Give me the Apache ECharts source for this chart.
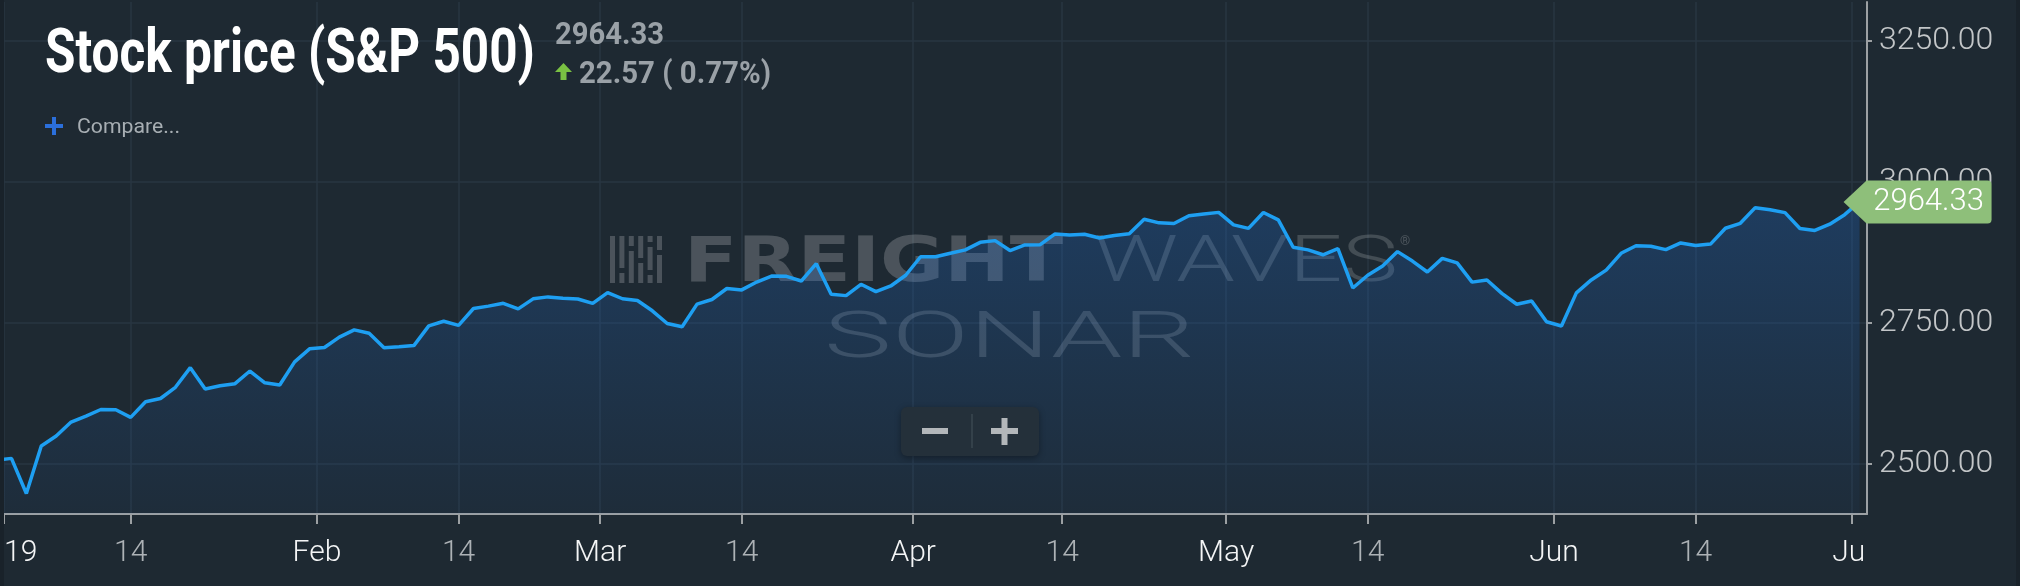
<!DOCTYPE html>
<html>
<head>
<meta charset="utf-8">
<title>Stock price (S&P 500)</title>
<script src="https://cdn.jsdelivr.net/npm/echarts@6/dist/echarts.min.js"></script>
<style>
  html, body { margin: 0; padding: 0; background: #1e2932; }
  #main { width: 2020px; height: 586px; }
</style>
</head>
<body>
<div id="main"></div>
<script>
// daily closes, S&P 500 (trading days only, so the x axis is ordinal)
const dates = [
    '2018-12-31',
    '2019-01-02', '2019-01-03', '2019-01-04', '2019-01-07', '2019-01-08', '2019-01-09', '2019-01-10', '2019-01-11',
    '2019-01-14', '2019-01-15', '2019-01-16', '2019-01-17', '2019-01-18', '2019-01-22', '2019-01-23', '2019-01-24',
    '2019-01-25', '2019-01-28', '2019-01-29', '2019-01-30', '2019-01-31',
    '2019-02-01', '2019-02-04', '2019-02-05', '2019-02-06', '2019-02-07', '2019-02-08', '2019-02-11', '2019-02-12',
    '2019-02-13', '2019-02-14', '2019-02-15', '2019-02-19', '2019-02-20', '2019-02-21', '2019-02-22', '2019-02-25',
    '2019-02-26', '2019-02-27', '2019-02-28',
    '2019-03-01', '2019-03-04', '2019-03-05', '2019-03-06', '2019-03-07', '2019-03-08', '2019-03-11', '2019-03-12',
    '2019-03-13', '2019-03-14', '2019-03-15', '2019-03-18', '2019-03-19', '2019-03-20', '2019-03-21', '2019-03-22',
    '2019-03-25', '2019-03-26', '2019-03-27', '2019-03-28', '2019-03-29',
    '2019-04-01', '2019-04-02', '2019-04-03', '2019-04-04', '2019-04-05', '2019-04-08', '2019-04-09', '2019-04-10',
    '2019-04-11', '2019-04-12', '2019-04-15', '2019-04-16', '2019-04-17', '2019-04-18', '2019-04-22', '2019-04-23',
    '2019-04-24', '2019-04-25', '2019-04-26', '2019-04-29', '2019-04-30',
    '2019-05-01', '2019-05-02', '2019-05-03', '2019-05-06', '2019-05-07', '2019-05-08', '2019-05-09', '2019-05-10',
    '2019-05-13', '2019-05-14', '2019-05-15', '2019-05-16', '2019-05-17', '2019-05-20', '2019-05-21', '2019-05-22',
    '2019-05-23', '2019-05-24', '2019-05-28', '2019-05-29', '2019-05-30', '2019-05-31',
    '2019-06-03', '2019-06-04', '2019-06-05', '2019-06-06', '2019-06-07', '2019-06-10', '2019-06-11', '2019-06-12',
    '2019-06-13', '2019-06-14', '2019-06-17', '2019-06-18', '2019-06-19', '2019-06-20', '2019-06-21', '2019-06-24',
    '2019-06-25', '2019-06-26', '2019-06-27', '2019-06-28',
    '2019-07-01'
];
const closes = [
    2506.85,
    2510.03, 2447.89, 2531.94, 2549.69, 2574.41, 2584.96, 2596.64, 2596.26,
    2582.61, 2610.30, 2616.10, 2635.96, 2670.71, 2632.90, 2638.70, 2642.33,
    2664.76, 2643.85, 2640.00, 2681.05, 2704.10,
    2706.53, 2724.87, 2737.70, 2731.61, 2706.05, 2707.88, 2709.80, 2744.73,
    2753.03, 2745.73, 2775.60, 2779.76, 2784.70, 2774.88, 2792.67, 2796.11,
    2793.90, 2792.38, 2784.49,
    2803.69, 2792.81, 2789.65, 2771.45, 2748.93, 2743.07, 2783.30, 2791.52,
    2810.92, 2808.48, 2822.48, 2832.94, 2832.57, 2824.23, 2854.88, 2800.71,
    2798.36, 2818.46, 2805.37, 2815.44, 2834.40,
    2867.19, 2867.24, 2873.40, 2879.39, 2892.74, 2895.77, 2878.20, 2888.21,
    2888.32, 2907.41, 2905.58, 2907.06, 2900.45, 2905.03, 2907.97, 2933.68,
    2927.25, 2926.17, 2939.88, 2943.03, 2945.83,
    2923.73, 2917.52, 2945.64, 2932.47, 2884.05, 2879.42, 2870.72, 2881.40,
    2811.87, 2834.41, 2850.96, 2876.32, 2859.53, 2840.23, 2864.36, 2856.27,
    2822.24, 2826.06, 2802.39, 2783.02, 2788.86, 2752.06,
    2744.45, 2803.27, 2826.15, 2843.49, 2873.34, 2886.73, 2885.72, 2879.84,
    2891.64, 2886.98, 2889.67, 2917.75, 2926.46, 2954.18, 2950.46, 2945.35,
    2917.38, 2913.78, 2924.92, 2941.76,
    2964.33
];
const tickDates = ['2019-01-01', '2019-01-14', '2019-02-01', '2019-02-14', '2019-03-01', '2019-03-14',
    '2019-04-01', '2019-04-14', '2019-05-01', '2019-05-14', '2019-06-01', '2019-06-14', '2019-07-01'];
const tickLabels = ['2019', '14', 'Feb', '14', 'Mar', '14', 'Apr', '14', 'May', '14', 'Jun', '14', 'Jul'];
const priceTicks = [2500, 2750, 3000, 3250];

(function() {
    const BG = '#1e2932';
    const GRID = '#283642';
    const AXIS = '#9ca0a3';

    // position of a calendar date on the ordinal (trading day) axis.
    // month starts sit between two sessions, like the source chart
    function ordinalPos(d) {
        let i = dates.findIndex(function(x) { return x >= d; });
        if (dates[i] === d && d.slice(8) !== '01') return i;
        return i - 0.5;
    }
    const tickPos = tickDates.map(ordinalPos);

    const last = closes.length - 1;
    const lastClose = closes[last];
    const change = lastClose - closes[last - 1];
    const pct = change / closes[last - 1] * 100;

    const mctx = document.createElement('canvas').getContext('2d');
    function fit(text, weight, size, family, width) {
        mctx.font = weight + ' ' + size + 'px ' + family;
        return width / mctx.measureText(text).width;
    }
    // cy = middle of the capitals; the small shift puts cap centre there
    function txt(text, x, cy, size, weight, family, color, width, z) {
        return {
            type: 'text', x: x, y: cy + size * 0.11, z: z, silent: true,
            scaleX: width ? fit(text, weight, size, family, width) : 1,
            style: {
                text: text, fontSize: size, fontWeight: weight, fontFamily: family, fill: color,
                textAlign: 'left', textVerticalAlign: 'middle', align: 'left', verticalAlign: 'middle'
            }
        };
    }
    function box(x, y, w, h, color, z, r) {
        return {type: 'rect', silent: true, z: z, shape: {x: x, y: y, width: w, height: h, r: r || 0}, style: {fill: color}};
    }

    // watermark logo bars
    const WM = 'rgba(255,255,255,0.2)';
    let logo = [];
    let segs = [[[236, 283]], [[236, 268], [273, 283]], [[236, 246], [251, 283]], [[236, 258], [263, 283]],
        [[236, 242], [247, 270], [275, 283]], [[236, 250], [255, 283]]];
    segs.forEach(function(s, k) {
        s.forEach(function(p) { logo.push(box(610 + k * 9.4, p[0], 5, p[1] - p[0], WM, 1)); });
    });

    const graphics = logo.concat([
        txt('FREIGHT', 684, 258, 63, 'bold', 'DejaVu Sans', WM, 379, 1),
        txt('WAVES', 1094, 258, 64, 300, 'Roboto', 'rgba(255,255,255,0.17)', 304, 1),
        txt('®', 1400, 240, 13, 'normal', 'Roboto', WM, 0, 1),
        txt('SONAR', 824, 334, 64, 300, 'Roboto', 'rgba(255,255,255,0.16)', 371, 1),

        // zoom buttons
        {type: 'rect', silent: true, z: 20, shape: {x: 901, y: 407, width: 138, height: 49, r: 6},
            style: {fill: '#24303a', shadowBlur: 6, shadowColor: 'rgba(0,0,0,0.35)', shadowOffsetY: 2}},
        box(922, 428, 26, 6, '#b3b7ba', 21),
        box(991, 428, 27, 6, '#b3b7ba', 21),
        box(1001.5, 418, 6, 27, '#b3b7ba', 21),
        {type: 'line', silent: true, z: 21, shape: {x1: 972, y1: 414, x2: 972, y2: 448}, style: {stroke: '#3a4751', lineWidth: 1.5}},

        // header
        txt('Stock price (S&P 500)', 45, 50, 62, 'bold', 'Roboto', '#ffffff', 490, 100),
        txt(lastClose.toFixed(2), 555, 32, 32, 'bold', 'Roboto', '#9aa1a7', 109, 100),
        {type: 'polygon', silent: true, z: 100,
            shape: {points: [[563.5, 63], [572, 72], [566.5, 72], [566.5, 80], [560.5, 80], [560.5, 72], [555, 72]]},
            style: {fill: '#7ac143'}},
        txt(change.toFixed(2) + ' ( ' + pct.toFixed(2) + '%)', 579, 71, 32, 'bold', 'Roboto', '#9aa1a7', 192, 100),
        box(45, 124, 18, 4, '#2b6fdb', 100),
        box(52, 117, 4, 18, '#2b6fdb', 100),
        txt('Compare...', 77, 125.5, 21, 'normal', 'Roboto', '#a7aeb3', 103, 100),

        // edges of the panel, and the cut of the last x label
        box(1866, 518, 150, 68, BG, 100),
        box(0, 0, 4, 586, '#19222a', 100),
        box(2016, 0, 4, 586, '#19222a', 100)
    ]);

    const chart = echarts.init(document.getElementById('main'), null, {renderer: 'canvas'});
    chart.setOption({
        backgroundColor: BG,
        animation: false,
        grid: {left: 4, right: 153, top: 2, bottom: 72, containLabel: false, outerBoundsMode: 'none'},
        xAxis: {
            type: 'value', min: 0.5, max: closes.length - 0.5,
            axisLine: {show: true, onZero: false, lineStyle: {color: AXIS, width: 2}},
            axisTick: {show: true, length: 10, customValues: tickPos, lineStyle: {color: AXIS, width: 2}},
            axisLabel: {
                customValues: tickPos, margin: 24, fontSize: 30, fontFamily: 'Roboto', fontWeight: 300,
                formatter: function(v) {
                    let i = tickPos.findIndex(function(p) { return Math.abs(p - v) < 1e-6; });
                    let t = tickLabels[i];
                    return t.length <= 2 ? '{d|' + t + '}' : '{m|' + t + '}';
                },
                rich: {
                    m: {color: '#f4f5f6', fontSize: 30, fontFamily: 'Roboto', fontWeight: 300},
                    d: {color: '#adb2b6', fontSize: 30, fontFamily: 'Roboto', fontWeight: 300}
                }
            },
            splitLine: {show: true, lineStyle: {color: GRID, width: 1.5}}
        },
        yAxis: {
            type: 'value', position: 'right', min: 2411.5, max: 3318.5,
            axisLine: {show: true, lineStyle: {color: AXIS, width: 2}},
            axisTick: {show: true, length: 5, customValues: priceTicks, lineStyle: {color: AXIS, width: 2}},
            axisLabel: {
                customValues: priceTicks, margin: 12, color: '#c3c6c8', fontSize: 32,
                fontFamily: 'Roboto', fontWeight: 300,
                formatter: function(v) { return v.toFixed(2); }
            },
            splitLine: {show: true, lineStyle: {color: GRID, width: 1.5}}
        },
        graphic: graphics,
        series: [{
            type: 'line',
            data: closes.map(function(c, i) { return [i, c]; }),
            showSymbol: false,
            clip: true,
            lineStyle: {color: '#1e9ff2', width: 3.5},
            areaStyle: {
                origin: 'start',
                color: new echarts.graphic.LinearGradient(0, 0, 0, 1, [
                    {offset: 0, color: 'rgba(31,110,210,0.4)'},
                    {offset: 1, color: 'rgba(31,110,210,0.07)'}
                ])
            },
            markPoint: {
                silent: true,
                symbol: 'path://M0,21.5L23,0L144,0Q148,0,148,4L148,39Q148,43,144,43L23,43Z',
                symbolSize: [148, 43],
                symbolKeepAspect: false,
                symbolOffset: [58, 0],
                itemStyle: {color: '#8ebf7a'},
                label: {
                    show: true, position: 'inside', offset: [11, 0],
                    color: '#ffffff', fontSize: 31, fontFamily: 'Roboto', fontWeight: 300,
                    formatter: function(p) { return p.value.toFixed(2); }
                },
                data: [{coord: [last, lastClose], value: lastClose}]
            }
        }]
    });
})();
</script>
</body>
</html>
